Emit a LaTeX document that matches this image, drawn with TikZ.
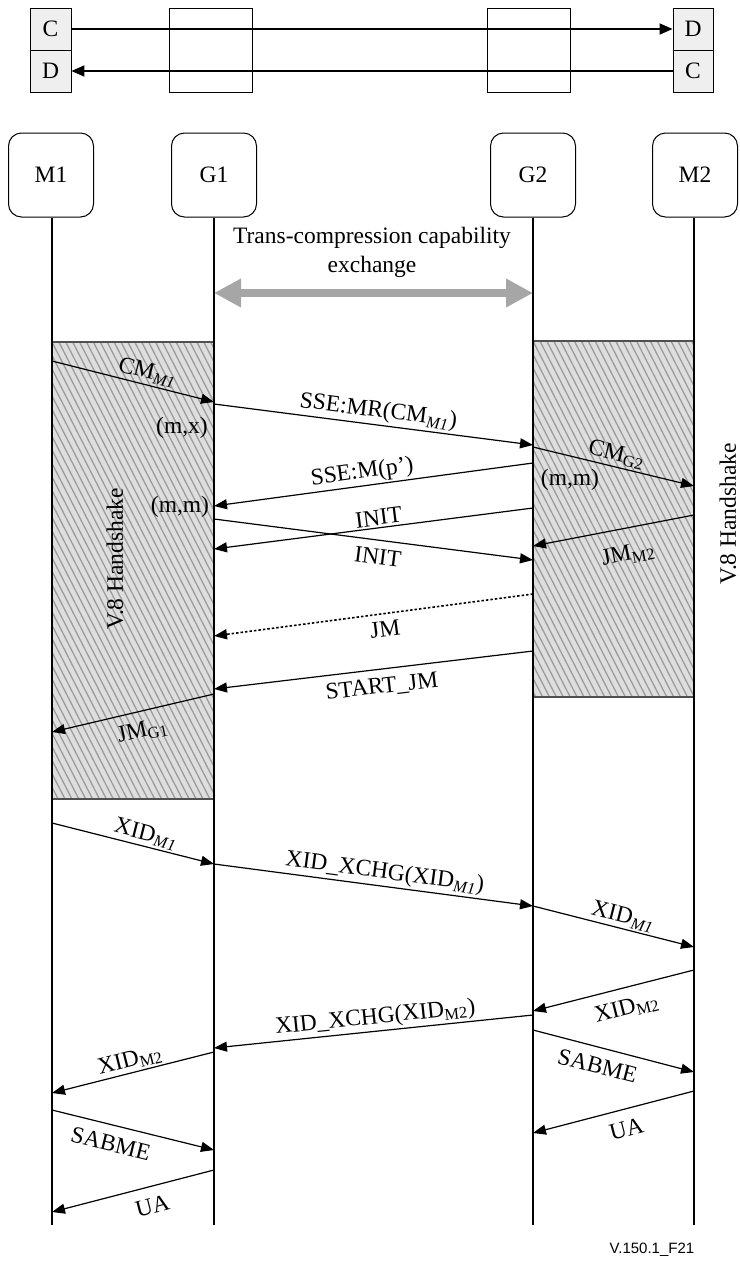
\documentclass[tikz,border=0pt]{standalone}
\usepackage{fontspec}
\setmainfont{Liberation Serif}
\newfontfamily\figsans{Liberation Sans}
\usetikzlibrary{arrows.meta}
\definecolor{cdgray}{HTML}{EFEFEF}
\definecolor{hatchfill}{HTML}{DEDEDE}
\definecolor{hatchline}{HTML}{9C9C9C}
\definecolor{hatchedge}{HTML}{505050}
\definecolor{capgray}{HTML}{A6A6A6}
\newcommand\mysubi[1]{\textsubscript{\textit{#1}}}
\newcommand\mysubu[1]{\textsubscript{#1}}
\begin{document}
\begin{tikzpicture}[x=1pt,y=-1pt,
  every node/.style={font=\fontsize{23.5}{29}\selectfont, inner sep=1pt},
  cdbox/.style={draw, fill=cdgray, minimum width=41pt, minimum height=42pt, inner sep=0pt, line width=0.9pt},
  midbox/.style={draw, minimum width=83pt, minimum height=84pt, inner sep=0pt, line width=0.9pt},
  hdr/.style={draw, rounded corners=13pt, minimum width=85pt, minimum height=84pt, line width=1pt},
  life/.style={line width=1.7pt},
  toparrow/.style={line width=1.8pt, -{Triangle[length=13pt,width=11pt]}},
  msg/.style={line width=1.2pt, -{Triangle[length=13pt,width=10pt]}},
  msgdot/.style={msg, line width=1.6pt, dash pattern=on 2.5pt off 2pt},
  lab/.style={sloped, inner sep=1pt},
  hatchbox/.style={fill=hatchfill},
  hatchln/.style={draw=hatchline, line width=1.3pt},
  hatchedg/.style={draw=hatchedge, line width=1.3pt},
  caparrow/.style={draw=capgray, line width=7.5pt, {Triangle[length=27pt,width=27pt]}-{Triangle[length=27pt,width=27pt]}}
]
\useasboundingbox (0,0) rectangle (739,1261);

% ---- top strip ----
\node[cdbox] (cl) at (50.5,29) {C};
\node[cdbox] (dl) at (50.5,71) {D};
\node[midbox] (mid1) at (210.5,50) {};
\node[midbox] (mid2) at (529,50) {};
\node[cdbox, minimum width=40pt] (dr) at (693,29) {D};
\node[cdbox, minimum width=40pt] (cr) at (693,71) {C};
\draw[toparrow] (cl.east) -- (dr.west);
\draw[toparrow] (cr.west) -- (dl.east);

% ---- headers ----
\node[hdr] (M1) at (51,175) {M1};
\node[hdr] (G1) at (214,175) {G1};
\node[hdr] (G2) at (533,175) {G2};
\node[hdr] (M2) at (695,175) {M2};

% ---- hatched V.8 regions ----
\begin{scope}
  \clip (52,342) rectangle (214,799);
  \fill[hatchbox] (52,342) rectangle (214,799);
  \foreach \k in {-45,...,30} \draw[hatchln] (52+\k*6.9,342) -- ++(233.8,457);
\end{scope}
\draw[hatchedg] (52,342) -- (214,342);
\draw[hatchedg] (52,799) -- (214,799);
\begin{scope}
  \clip (533,341) rectangle (694,697);
  \fill[hatchbox] (533,341) rectangle (694,697);
  \foreach \k in {-35,...,30} \draw[hatchln] (533+\k*6.9,341) -- ++(182.1,356);
\end{scope}
\draw[hatchedg] (533,341) -- (694,341);
\draw[hatchedg] (533,697) -- (694,697);

% ---- lifelines ----
\coordinate (M1e) at (52,1225);
\coordinate (G1e) at (214,1225);
\coordinate (G2e) at (533,1225);
\coordinate (M2e) at (694,1225);
\draw[life] (M1.south -| M1e) -- (M1e);
\draw[life] (G1.south) -- (G1e);
\draw[life] (G2.south) -- (G2e);
\draw[life] (M2.south -| M2e) -- (M2e);

% ---- trans-compression capability exchange ----
\node[align=center] (tc) at (372,252) {Trans-compression capability\\exchange};
\coordinate (tcL) at (214,293);
\coordinate (tcR) at (533,293);
\draw[caparrow] (tcL) -- (tcR);

% ---- V.8 labels ----
\node[rotate=90] (v8l) at (115,559) {V.8 Handshake};
\node[rotate=90] (v8r) at (728,514) {V.8 Handshake};
\node (mx) at (182,428) {(m,x)};
\node (mm1) at (180,507) {(m,m)};
\node (mm2) at (570,480) {(m,m)};

% ---- messages ----
\draw[msg] (52,361) -- node[lab,pos=.57,above=1pt]{CM\mysubi{M1}} (214,402);
\draw[msg] (214,404) -- node[lab,pos=.51,above=1pt]{SSE:MR(CM\mysubi{M1})} (533,445);
\draw[msg] (533,447) -- node[lab,pos=.5,above=1pt]{CM\mysubu{G2}} (694,486);
\draw[msg] (533,463) -- node[lab,pos=.53,above=1pt]{SSE:M(p{\char"0027})} (214,506);
\draw[msg] (533,508) -- node[lab,pos=.48,above=1pt]{INIT} (214,549);
\draw[msg] (214,519) -- node[lab,pos=.52,below=7pt]{INIT} (533,560);
\draw[msg] (694,515) -- node[lab,pos=.44,below=15pt]{JM\mysubu{M2}} (533,546);
\draw[msgdot] (533,594) -- node[lab,pos=.47,below=6pt]{JM} (214,636);
\draw[msg] (533,651) -- node[lab,pos=.48,below=7pt]{START\_JM} (214,689);
\draw[msg] (214,694) -- node[lab,pos=.47,below=9pt]{JM\mysubu{G1}} (52,732);

\draw[msg] (52,823) -- node[lab,pos=.56,above=1pt]{XID\mysubi{M1}} (214,864);
\draw[msg] (214,864) -- node[lab,pos=.53,above=1pt]{XID\_XCHG(XID\mysubi{M1})} (533,906);
\draw[msg] (533,906) -- node[lab,pos=.54,above=1pt]{XID\mysubi{M1}} (694,947);
\draw[msg] (694,970) -- node[lab,pos=.45,below=10pt]{XID\mysubu{M2}} (533,1011);
\draw[msg] (533,1015) -- node[lab,pos=.49,above=1pt]{XID\_XCHG(XID\mysubu{M2})} (214,1048);
\draw[msg] (214,1052) -- node[lab,pos=.5,above=1pt]{XID\mysubu{M2}} (52,1093);
\draw[msg] (533,1030) -- node[lab,pos=.43,below=9pt]{SABME} (694,1072);
\draw[msg] (694,1091) -- node[lab,pos=.45,below=10pt]{UA} (533,1133);
\draw[msg] (52,1110) -- node[lab,pos=.39,below=9pt]{SABME} (214,1150);
\draw[msg] (214,1170) -- node[lab,pos=.41,below=10pt]{UA} (52,1212);

% ---- figure id ----
\node (fig) at (652,1250) {\figsans\fontsize{15}{18}\selectfont V.150.1\_F21};
\end{tikzpicture}
\end{document}
